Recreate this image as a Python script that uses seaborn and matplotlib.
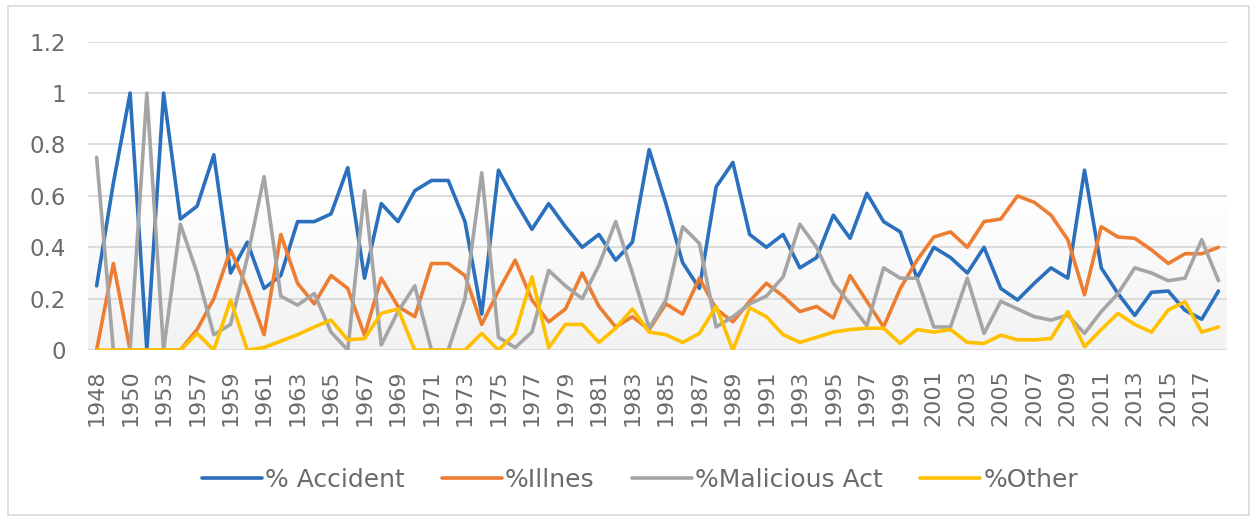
import numpy as np
import pandas as pd
import matplotlib
matplotlib.use("Agg")
import matplotlib.pyplot as plt
import seaborn as sns
from matplotlib.patches import Rectangle

# categories (the 2nd, 4th and 6th years are never labelled on the axis)
years = ["1948", "1949", "1950", "1951", "1953", "1955"] + [str(y) for y in range(1957, 2019)]

accident = [0.25, 0.65, 1.0, 0.0, 1.0, 0.51, 0.56, 0.76, 0.30, 0.42,
            0.24, 0.29, 0.50, 0.50, 0.53, 0.71, 0.28, 0.57, 0.50, 0.62,
            0.66, 0.66, 0.50, 0.14, 0.70, 0.58, 0.47, 0.57, 0.48, 0.40,
            0.45, 0.35, 0.42, 0.78, 0.57, 0.34, 0.24, 0.635, 0.73, 0.45,
            0.40, 0.45, 0.32, 0.36, 0.525, 0.435, 0.61, 0.50, 0.46, 0.28,
            0.40, 0.36, 0.30, 0.40, 0.24, 0.195, 0.26, 0.32, 0.28, 0.70,
            0.32, 0.22, 0.135, 0.225, 0.23, 0.155, 0.12, 0.23]

illnes = [0.0, 0.337, 0.0, 0.0, 0.0, 0.0, 0.08, 0.20, 0.39, 0.24,
          0.06, 0.45, 0.26, 0.18, 0.29, 0.24, 0.058, 0.28, 0.17, 0.13,
          0.337, 0.337, 0.29, 0.10, 0.23, 0.35, 0.195, 0.11, 0.16, 0.30,
          0.17, 0.09, 0.13, 0.08, 0.18, 0.14, 0.28, 0.16, 0.11, 0.19,
          0.26, 0.21, 0.15, 0.17, 0.125, 0.29, 0.19, 0.09, 0.24, 0.35,
          0.44, 0.46, 0.40, 0.50, 0.51, 0.60, 0.575, 0.525, 0.43, 0.215,
          0.48, 0.44, 0.435, 0.39, 0.337, 0.375, 0.375, 0.40]

malicious = [0.75, 0.0, 0.0, 1.0, 0.0, 0.49, 0.30, 0.06, 0.10, 0.36,
             0.675, 0.21, 0.175, 0.22, 0.07, 0.0, 0.62, 0.02, 0.15, 0.25,
             0.0, 0.0, 0.20, 0.69, 0.05, 0.01, 0.07, 0.31, 0.25, 0.20,
             0.33, 0.50, 0.30, 0.085, 0.195, 0.48, 0.415, 0.09, 0.13, 0.18,
             0.21, 0.285, 0.49, 0.40, 0.26, 0.18, 0.095, 0.32, 0.28, 0.28,
             0.09, 0.09, 0.28, 0.065, 0.19, 0.16, 0.13, 0.117, 0.136, 0.065,
             0.15, 0.22, 0.32, 0.30, 0.27, 0.28, 0.43, 0.27]

other = [0.0, 0.0, 0.0, 0.0, 0.0, 0.0, 0.065, 0.0, 0.195, 0.0,
         0.01, 0.035, 0.06, 0.09, 0.117, 0.04, 0.045, 0.143, 0.16, 0.0,
         0.0, 0.0, 0.0, 0.065, 0.0, 0.065, 0.285, 0.01, 0.10, 0.10,
         0.03, 0.085, 0.16, 0.07, 0.06, 0.03, 0.065, 0.17, 0.0, 0.165,
         0.13, 0.06, 0.03, 0.05, 0.07, 0.08, 0.085, 0.085, 0.026, 0.08,
         0.07, 0.08, 0.03, 0.026, 0.058, 0.04, 0.04, 0.045, 0.15, 0.013,
         0.08, 0.143, 0.10, 0.07, 0.156, 0.188, 0.07, 0.09]

series_names = ["% Accident", "%Illnes", "%Malicious Act", "%Other"]
colors = ["#2a70bd", "#ed7d31", "#a5a5a5", "#ffc000"]
y_ticks = [0, 0.2, 0.4, 0.6, 0.8, 1, 1.2]
y_tick_labels = ["0", "0.2", "0.4", "0.6", "0.8", "1", "1.2"]

df = pd.DataFrame({
    "pos": np.arange(len(years)),
    "year": years,
    series_names[0]: accident,
    series_names[1]: illnes,
    series_names[2]: malicious,
    series_names[3]: other,
})
long = df.melt(id_vars=["pos", "year"], var_name="series", value_name="value")

sns.set_theme(style="white")
plt.rcParams["font.family"] = ["DejaVu Sans"]
text_col = "#6b6b6b"

fig = plt.figure(figsize=(12.57, 5.21), dpi=100)
ax = fig.add_axes([0.0702, 0.328, 0.9058, 0.592])

# soft vertical gradient behind the plot area: white on top, light grey below
grad = np.linspace(0.0, 1.0, 256).reshape(-1, 1)
ax.imshow(grad, extent=[-0.5, 67.5, 0, 1.2], aspect="auto", origin="upper",
          cmap=matplotlib.colors.LinearSegmentedColormap.from_list("bg", ["#ffffff", "#ffffff", "#f2f2f2"]),
          vmin=0, vmax=1, zorder=0)

for yv in y_ticks:
    ax.axhline(yv, color="#d9d9d9", lw=1.3, zorder=1)

sns.lineplot(data=long, x="pos", y="value", hue="series", hue_order=series_names,
             palette=colors, linewidth=2.6, ax=ax, legend=False, zorder=3)

ax.set_xlim(-0.5, len(years) - 0.5)
ax.set_ylim(0, 1.2)
ax.set_xticks(np.arange(0, len(years), 2))
ax.set_xticklabels(years[::2], rotation=90, fontsize=16, color=text_col)
ax.set_yticks(y_ticks)
ax.set_yticklabels(y_tick_labels, fontsize=16.5, color=text_col)
ax.tick_params(axis="x", length=0, pad=14)
ax.tick_params(axis="y", length=0, pad=16)
ax.set_xlabel("")
ax.set_ylabel("")
for s in ax.spines.values():
    s.set_visible(False)

handles = [plt.Line2D([], [], color=c, lw=2.6) for c in colors]
leg = fig.legend(handles, series_names, loc="center", bbox_to_anchor=(0.509, 0.079),
                 ncol=4, frameon=False, fontsize=18, handlelength=2.4,
                 handletextpad=0.12, columnspacing=1.5)
for t in leg.get_texts():
    t.set_color(text_col)

fig.patches.append(Rectangle((0.006, 0.012), 0.988, 0.976, transform=fig.transFigure,
                             fill=False, edgecolor="#d9d9d9", lw=1.2))

fig.savefig("out.png", dpi=100, facecolor="white")
